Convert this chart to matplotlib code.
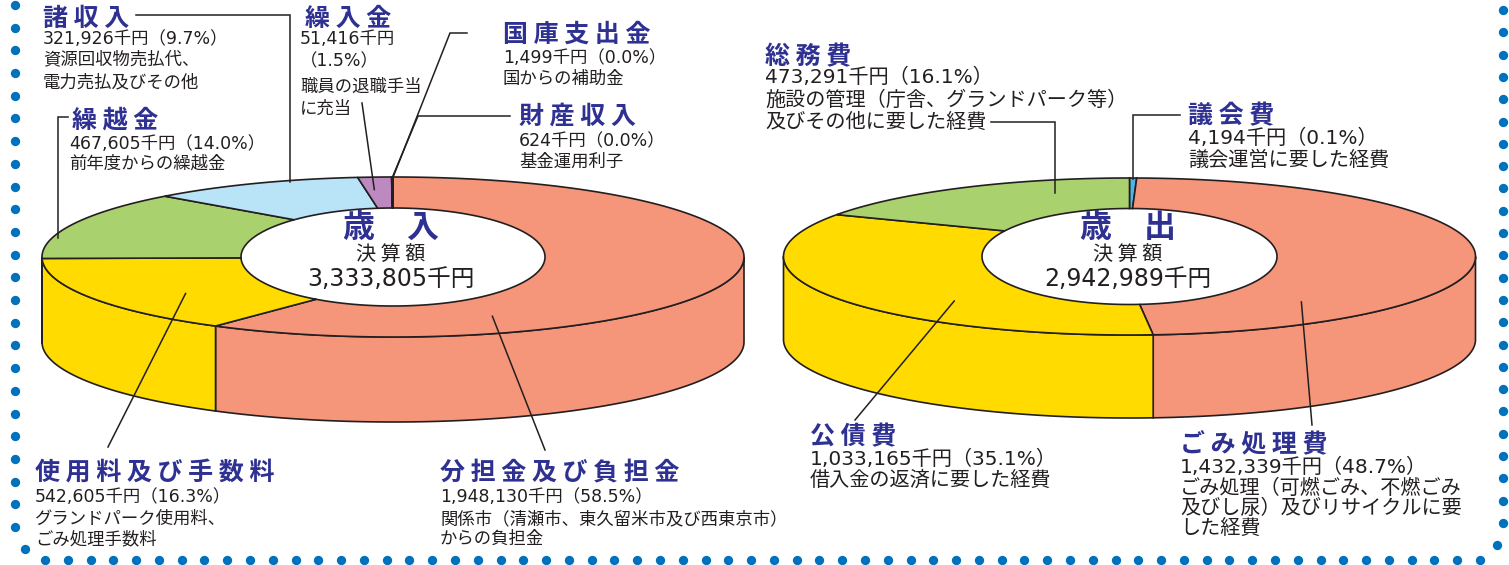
import numpy as np
import matplotlib
matplotlib.use('Agg')
import matplotlib.pyplot as plt
from matplotlib.patches import Polygon

plt.rcParams['font.family'] = ['Noto Sans CJK JP', 'DejaVu Sans']

# 歳入（千円）上から時計回り
rev_names = ['分担金及び負担金', '使用料及び手数料', '繰越金', '諸収入', '繰入金', '財産収入', '国庫支出金']
rev_values = [1948130, 542605, 467605, 321926, 51416, 624, 1499]
rev_pcts = ['58.5', '16.3', '14.0', '9.7', '1.5', '0.0', '0.0']
rev_notes = [
    ['関係市（清瀬市、東久留米市及び西東京市）', 'からの負担金'],
    ['グランドパーク使用料、', 'ごみ処理手数料'],
    ['前年度からの繰越金'],
    ['資源回収物売払代、', '電力売払及びその他'],
    ['職員の退職手当', 'に充当'],
    ['基金運用利子'],
    ['国からの補助金'],
]
rev_colors = ['#F5967A', '#FFDB00', '#A9D26F', '#B9E4F8', '#BC8AC0', '#B9E4F8', '#B9E4F8']

# 歳出（千円）上から時計回り
exp_names = ['議会費', 'ごみ処理費', '公債費', '総務費']
exp_values = [4194, 1432339, 1033165, 473291]
exp_pcts = ['0.1', '48.7', '35.1', '16.1']
exp_notes = [
    ['議会運営に要した経費'],
    ['ごみ処理（可燃ごみ、不燃ごみ', '及びし尿）及びリサイクルに要', 'した経費'],
    ['借入金の返済に要した経費'],
    ['施設の管理（庁舎、グランドパーク等）', '及びその他に要した経費'],
]
exp_colors = ['#4FB4E6', '#F5967A', '#FFDB00', '#A9D26F']

EDGE = '#231F20'
BLUE = '#2E3192'
DOT = '#0071BC'
LW = 1.2
NUMFONT = ['DejaVu Sans', 'Noto Sans CJK JP']

left_g = dict(cx=393, cy=257, ao=351, bo=80, ai=152, bi=49, depth=85)
right_g = dict(cx=1129.5, cy=256.5, ao=346, bo=78.5, ai=147.5, bi=48, depth=83)

fig = plt.figure(figsize=(15.09, 5.65), dpi=100)
ax = fig.add_axes([0, 0, 1, 1])
ax.set_xlim(0, 1509)
ax.set_ylim(565, 0)
ax.axis('off')


def ring_xy(g, th, r):
    a = g['ai'] + r * (g['ao'] - g['ai'])
    b = g['bi'] + r * (g['bo'] - g['bi'])
    t = np.radians(th)
    return g['cx'] + a * np.sin(t), g['cy'] - b * np.cos(t)


def draw_donut(g, values, colors, min_deg=0.0):
    deg = np.array(values, float) / sum(values) * 360
    deg = np.maximum(deg, min_deg)
    deg = deg * 360 / deg.sum()
    edges = np.concatenate([[0], np.cumsum(deg)])
    # 側面（手前半分）
    for i, c in enumerate(colors):
        s0, s1 = max(edges[i], 90), min(edges[i + 1], 270)
        if s1 > s0:
            th = np.linspace(s0, s1, 100)
            x, y = ring_xy(g, th, 1)
            pts = np.r_[np.c_[x, y], np.c_[x, y + g['depth']][::-1]]
            ax.add_patch(Polygon(pts, closed=True, fc=c, ec=EDGE, lw=LW, zorder=1))
    # 上面
    for i, c in enumerate(colors):
        n = max(2, int((edges[i + 1] - edges[i]) * 2))
        th = np.linspace(edges[i], edges[i + 1], n)
        xo, yo = ring_xy(g, th, 1)
        xi, yi = ring_xy(g, th[::-1], 0)
        pts = np.r_[np.c_[xo, yo], np.c_[xi, yi]]
        ax.add_patch(Polygon(pts, closed=True, fc=c, ec=EDGE, lw=LW, zorder=2))
    return edges


def anchor(g, edges, i, f, r):
    th = edges[i] + f * (edges[i + 1] - edges[i])
    x, y = ring_xy(g, th, r)
    return float(x), float(y)


def leader(pts):
    xs, ys = zip(*pts)
    ax.plot(xs, ys, color=EDGE, lw=1.1, zorder=3, solid_joinstyle='miter')


def label(x, top, name, value, pct, notes, line_tops, fs, body_x=None, split=False):
    bx = x if body_x is None else body_x
    t = ax.text(x, top, ' '.join(name), fontsize=18, weight='bold', color=BLUE,
                va='top', ha='left', zorder=4)
    nums = [f'{value:,}千円', f'（{pct}%）'] if split else [f'{value:,}千円（{pct}%）']
    out = [t]
    for k, s in enumerate(nums + notes):
        fam = NUMFONT if k < len(nums) else None
        kw = dict(family=fam) if fam else {}
        out.append(ax.text(bx, line_tops[k], s, fontsize=fs, color=EDGE,
                           va='top', ha='left', zorder=4, **kw))
    return out


le = draw_donut(left_g, rev_values, rev_colors)
re_ = draw_donut(right_g, exp_values, exp_colors, min_deg=1.2)

# 中央の文字
for g, head, total in [(left_g, '歳　入', sum(rev_values)), (right_g, '歳　出', sum(exp_values))]:
    ax.text(g['cx'] - 2, 228, head, fontsize=23, weight='bold', color=BLUE,
            ha='center', va='center', zorder=4)
    ax.text(g['cx'] - 2, 254, '決 算 額', fontsize=14.5, color=EDGE,
            ha='center', va='center', zorder=4)
    ax.text(g['cx'] - 2, 279, f'{total:,}千円', fontsize=17, color=EDGE, family=NUMFONT,
            ha='center', va='center', zorder=4)

# 歳入ラベル
lay_left = {
    0: dict(x=440, top=461, line_tops=[488, 510, 530]),
    1: dict(x=35, top=461, line_tops=[488, 510, 530]),
    2: dict(x=72, top=108, line_tops=[135, 155], body_x=69),
    3: dict(x=43, top=7, line_tops=[30, 50, 73]),
    4: dict(x=305, top=7, line_tops=[30, 52, 78, 100], body_x=300, split=True),
    5: dict(x=519, top=105, line_tops=[132, 153]),
    6: dict(x=503, top=23, line_tops=[49, 70]),
}
txt_left = {}
for i, kw in lay_left.items():
    txt_left[i] = label(name=rev_names[i], value=rev_values[i], pct=rev_pcts[i],
                        notes=rev_notes[i], fs=12.5, **kw)

lay_right = {
    0: dict(x=1188, top=104, line_tops=[129, 150]),
    1: dict(x=1180, top=433, line_tops=[458, 478, 498, 518]),
    2: dict(x=810, top=425, line_tops=[450, 470]),
    3: dict(x=765, top=45, line_tops=[68, 90, 112]),
}
txt_right = {}
for i, kw in lay_right.items():
    txt_right[i] = label(name=exp_names[i], value=exp_values[i], pct=exp_pcts[i],
                         notes=exp_notes[i], fs=14.5, **kw)

fig.canvas.draw()
renderer = fig.canvas.get_renderer()
inv = ax.transData.inverted()


def text_end(t):
    bb = t.get_window_extent(renderer)
    return inv.transform((bb.x1, bb.y0))[0]


# 引き出し線（歳入）
a = anchor(left_g, le, 3, 0.66, 0.95)
leader([(text_end(txt_left[3][0]) + 7, 15), (a[0], 15), a])
a = anchor(left_g, le, 4, 0.33, 0.6)
leader([(362, 103), a])
a = anchor(left_g, le, 6, 0.5, 0.95)
leader([(467, 33), (450, 33), a])
a = anchor(left_g, le, 5, 0.5, 0.95)
leader([(510, 116), (418, 116), a])
a = anchor(left_g, le, 2, 0.29, 0.97)
leader([(68, 117), (a[0], 117), a])
a = anchor(left_g, le, 1, 0.43, 0.5)
leader([(108, 447), a])
a = anchor(left_g, le, 0, 0.745, 0.5)
leader([(545, 450), a])

# 引き出し線（歳出）
a = anchor(right_g, re_, 3, 0.72, 0.6)
leader([(text_end(txt_right[3][-1]) + 5, 122), (a[0], 122), a])
a = anchor(right_g, re_, 0, 0.5, 0.97)
leader([(1180, 115), (a[0], 115), a])
a = anchor(right_g, re_, 2, 0.39, 0.5)
leader([(855, 420), a])
a = anchor(right_g, re_, 1, 0.77, 0.5)
leader([(1312, 425), a])

# 点線の枠
n_side = 24
n_bottom = 64
ax.scatter(np.full(n_side, 15), np.linspace(5, 527, n_side), s=45, color=DOT, lw=0, zorder=5)
ax.scatter(np.linspace(45, 1480, n_bottom), np.full(n_bottom, 560), s=45, color=DOT, lw=0, zorder=5)
ax.scatter(np.full(n_side, 1503), np.linspace(10, 523, n_side), s=45, color=DOT, lw=0, zorder=5)
ax.scatter([25, 1497], [549, 545], s=45, color=DOT, lw=0, zorder=5)

fig.savefig('out.png', dpi=100)
